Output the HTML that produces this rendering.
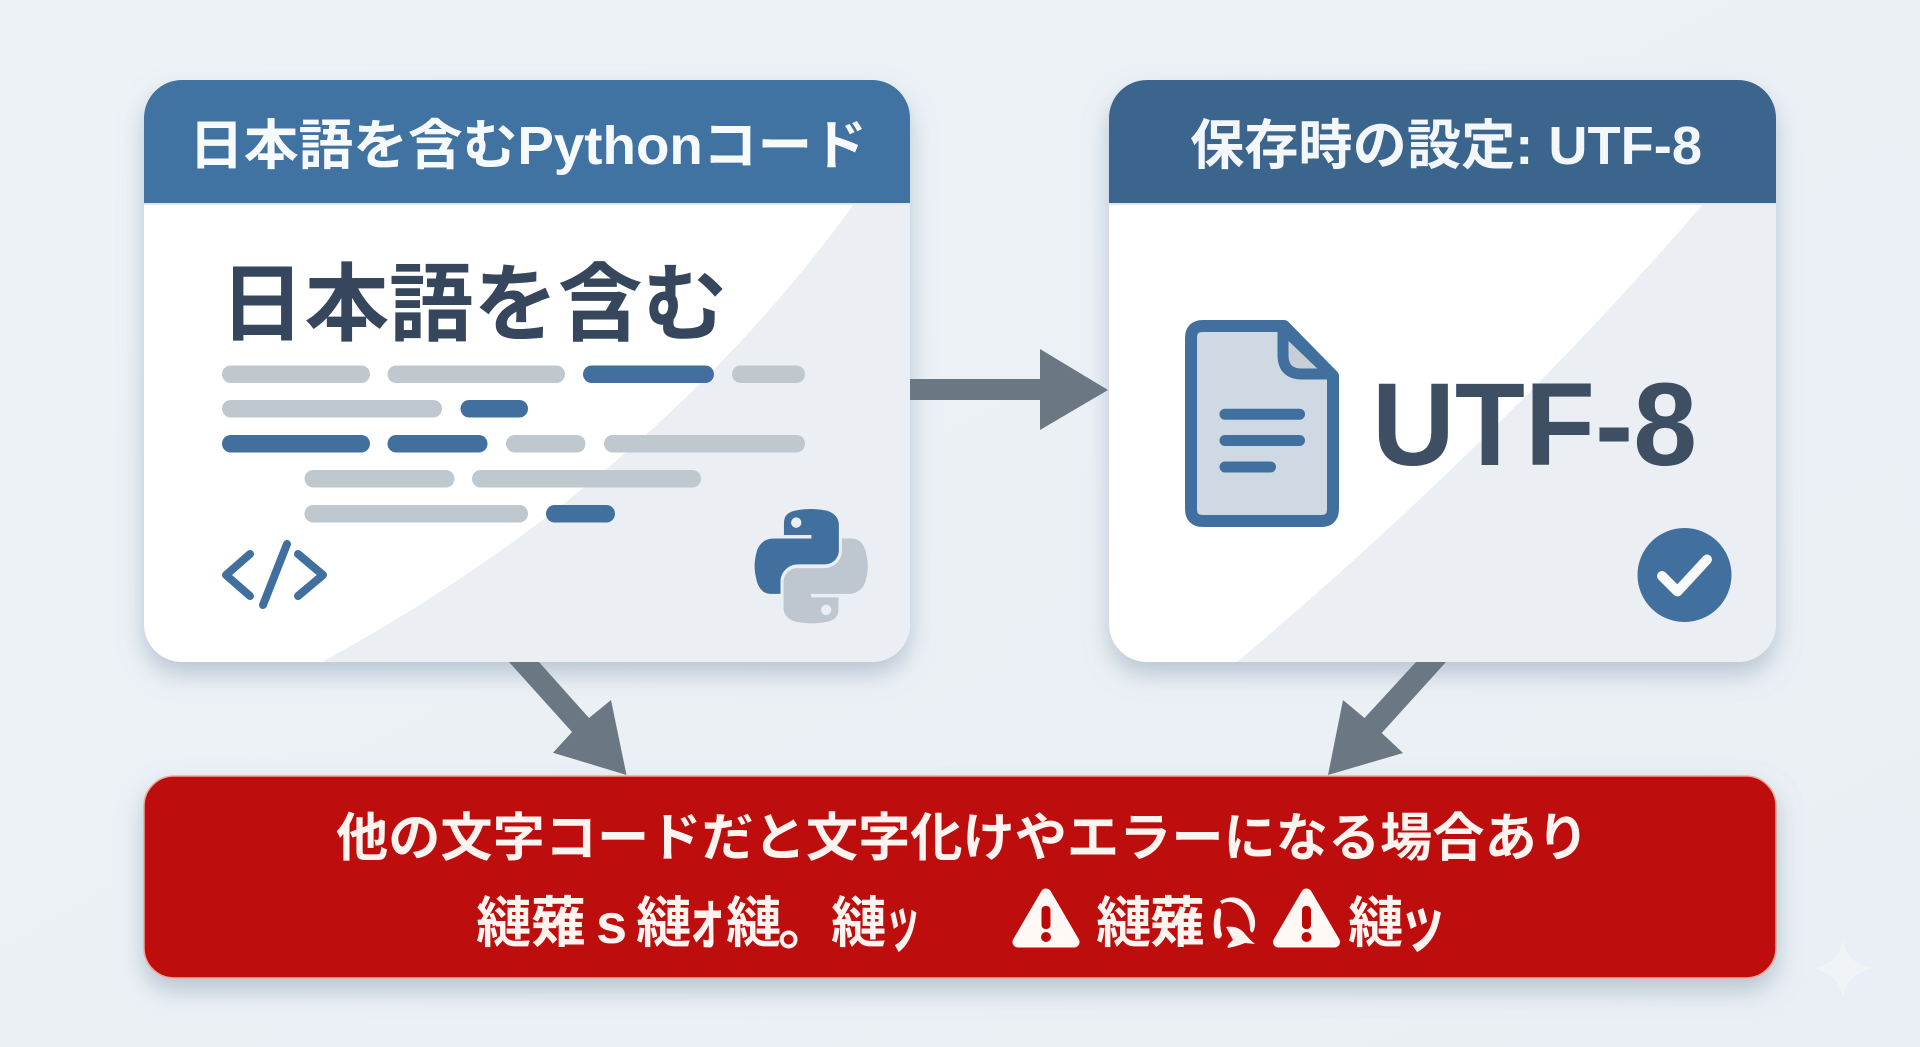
<!DOCTYPE html>
<html lang="ja">
<head>
<meta charset="utf-8">
<title>UTF-8 diagram</title>
<style>
html,body{margin:0;padding:0;width:1920px;height:1047px;overflow:hidden;background:#e9eff5}
svg{display:block;position:absolute;left:0;top:0}
text{font-family:"Liberation Sans","Noto Sans CJK JP",sans-serif;font-weight:700}
</style>
</head>
<body>
<svg width="1920" height="1047" viewBox="0 0 1920 1047" xmlns="http://www.w3.org/2000/svg">
<defs>
<linearGradient id="bg" x1="0" y1="0" x2="1" y2="1"><stop offset="0" stop-color="#edf2f6"/><stop offset="1" stop-color="#e9eff4"/></linearGradient>
<filter id="sh" x="-10%" y="-10%" width="120%" height="130%"><feDropShadow dx="0" dy="12" stdDeviation="12" flood-color="#8fa3b8" flood-opacity=".55"/></filter>
<clipPath id="c1"><rect x="144" y="80" width="766" height="582" rx="38"/></clipPath>
<clipPath id="c2"><rect x="1109" y="80" width="667" height="582" rx="38"/></clipPath>
</defs>
<rect width="1920" height="1047" fill="url(#bg)"/>

<!-- Card 1 -->
<rect x="144" y="80" width="766" height="582" rx="38" fill="#fff" filter="url(#sh)"/>
<g clip-path="url(#c1)">
<path d="M854 204 Q652 482 322 662 H910 V204 Z" fill="#ebeff4"/>
<path d="M144 203 V80 H910 V203 Z" fill="#4072a2"/>
<rect x="144" y="203" width="766" height="2" fill="#dfe8f0"/>
</g>
<text x="189" y="164" font-size="54" fill="#f7fafc" textLength="678" lengthAdjust="spacingAndGlyphs">日本語を含むPythonコード</text>
<text x="220" y="334" font-size="85" fill="#36475d" textLength="507" lengthAdjust="spacingAndGlyphs">日本語を含む</text>
<g fill="#bfc7cf">
<rect x="222" y="365.5" width="148" height="17.5" rx="8.7"/>
<rect x="387.500" y="365.5" width="177.500" height="17.5" rx="8.7"/>
<rect x="732" y="365.5" width="73" height="17.5" rx="8.7"/>
<rect x="222" y="400" width="220" height="17.5" rx="8.7"/>
<rect x="506" y="435" width="79.500" height="17.5" rx="8.7"/>
<rect x="604" y="435" width="201" height="17.5" rx="8.7"/>
<rect x="304.500" y="470" width="150" height="17.5" rx="8.7"/>
<rect x="472" y="470" width="229" height="17.5" rx="8.7"/>
<rect x="304.500" y="505" width="223.500" height="17.5" rx="8.7"/>
</g>
<g fill="#41709f">
<rect x="583" y="365.5" width="131" height="17.5" rx="8.7"/>
<rect x="460.500" y="400" width="67.500" height="17.5" rx="8.7"/>
<rect x="222" y="435" width="148" height="17.5" rx="8.7"/>
<rect x="387.500" y="435" width="100" height="17.5" rx="8.7"/>
<rect x="546" y="505" width="69" height="17.5" rx="8.7"/>
</g>
<g fill="none" stroke="#41709f" stroke-width="8" stroke-linecap="round" stroke-linejoin="round">
<path d="M250 554 L226 575 L250 596"/>
<path d="M287 544 L263 605"/>
<path d="M298 554 L323 575 L298 596"/>
</g>
<g transform="translate(754 509) scale(1.04)">
<path fill="#bec6cf" fill-rule="evenodd" transform="rotate(180 55 55)" d="M54.900 0C50.300 .02 45.900 .4 42.100 1.100C30.800 3.100 28.800 7.200 28.800 14.900V25H55.200V28.400H18.900C11.200 28.400 4.500 33 2.400 41.700C0 51.700 -.1 57.900 2.400 68.300C4.300 76.100 8.700 81.600 16.400 81.600H25.500V69.600C25.500 60.900 33 53.200 42.100 53.200H68.400C75.800 53.200 81.600 47.100 81.600 39.800V14.900C81.600 7.800 75.600 2.500 68.400 1.300C63.900 .5 59.300 0 54.900 0ZM40.600 8.100a5 5 0 1 1 0 10a5 5 0 1 1 0-10Z"/>
<path fill="#41709f" fill-rule="evenodd" d="M54.900 0C50.300 .02 45.900 .4 42.100 1.100C30.800 3.100 28.800 7.200 28.800 14.900V25H55.200V28.400H18.900C11.200 28.400 4.500 33 2.400 41.700C0 51.700 -.1 57.900 2.400 68.300C4.300 76.100 8.700 81.600 16.400 81.600H25.500V69.600C25.500 60.900 33 53.200 42.100 53.200H68.400C75.800 53.200 81.600 47.100 81.600 39.800V14.900C81.600 7.800 75.600 2.500 68.400 1.300C63.900 .5 59.300 0 54.900 0ZM40.600 8.100a5 5 0 1 1 0 10a5 5 0 1 1 0-10Z"/>
</g>

<!-- Card 2 -->
<rect x="1109" y="80" width="667" height="582" rx="38" fill="#fff" filter="url(#sh)"/>
<g clip-path="url(#c2)">
<path d="M1703 204 Q1500 440 1237 662 H1776 V204 Z" fill="#ebeff4"/>
<path d="M1109 203 V80 H1776 V203 Z" fill="#3b658c"/>
<rect x="1109" y="203" width="667" height="2" fill="#dfe8f0"/>
</g>
<text x="1190" y="164" font-size="54" fill="#f4f7fa" textLength="512" lengthAdjust="spacingAndGlyphs">保存時の設定: UTF-8</text>
<path d="M1203 326 H1284 L1333 376 V509 Q1333 521 1321 521 H1203 Q1191 521 1191 509 V338 Q1191 326 1203 326 Z" fill="#cfd9e4" stroke="#41709f" stroke-width="12" stroke-linejoin="round"/>
<path d="M1283 328 V355 Q1283 374 1302 374 H1331 Z" fill="#c7ced6" stroke="#41709f" stroke-width="11" stroke-linejoin="round"/>
<g fill="#41709f">
<rect x="1219.500" y="408.700" width="85.500" height="11" rx="5.500"/>
<rect x="1219.500" y="435" width="85.500" height="11" rx="5.500"/>
<rect x="1219.500" y="461.500" width="56.500" height="11" rx="5.500"/>
</g>
<text x="1372" y="465" font-size="118" fill="#3e4f63" textLength="325" lengthAdjust="spacingAndGlyphs">UTF-8</text>
<circle cx="1684.500" cy="575" r="47" fill="#41709f"/>
<path d="M1662 576 L1677.500 591.500 L1707 559.500" fill="none" stroke="#f8fafb" stroke-width="10" stroke-linecap="round" stroke-linejoin="round"/>

<!-- Banner -->
<rect x="144" y="776" width="1632" height="202" rx="30" fill="#bd0808" stroke="#f3a697" stroke-width="1.500" filter="url(#sh)"/>
<text x="336" y="856" font-size="52" fill="#fdf3ef" textLength="1253" lengthAdjust="spacingAndGlyphs">他の文字コードだと文字化けやエラーになる場合あり</text>
<g font-size="55" fill="#fdf3ef">
<text x="476 531" y="942">縺薙</text>
<text x="596" y="943" font-size="56">s</text>
<text x="636" y="942">縺</text>
<text x="687" y="942" font-size="66" textLength="39" lengthAdjust="spacingAndGlyphs">ォ</text>
<text x="726" y="942">縺</text>
<text x="778" y="944">。</text>
<text x="831" y="942">縺</text>
<text x="885" y="946" font-size="64" textLength="36" lengthAdjust="spacingAndGlyphs">ッ</text>
<text x="1096 1150" y="942">縺薙</text>
<text x="1348" y="942">縺</text>
<text x="1399" y="946" font-size="64" textLength="48" lengthAdjust="spacingAndGlyphs">ッ</text>
</g>
<g fill="#fdf3ef">
<path d="M1220 901 Q1236 892 1248 905 Q1258 918 1254 930 Q1252 935 1250 930 Q1250 915 1240 906 Q1230 899 1222 904 Z"/>
<path d="M1216 910 Q1222 905 1221 915 Q1219 925 1222 935 Q1220 941 1215 937 Q1212 922 1216 910 Z"/>
<path d="M1226 927 Q1238 925 1245 934 Q1250 940 1255 944 L1245 943 Q1238 946 1228 948 Q1226 946 1233 940 Q1230 934 1226 927 Z"/>
</g>
<g>
<path d="M1046 894 L1074 942 H1018 Z" fill="#fff8f5" stroke="#fff8f5" stroke-width="11" stroke-linejoin="round"/>
<rect x="1041.500" y="906" width="9" height="23" rx="4" fill="#bd0808"/>
<circle cx="1046" cy="937" r="5" fill="#bd0808"/>
</g>
<g>
<path d="M1306.500 894 L1334.500 942 H1278.500 Z" fill="#fff8f5" stroke="#fff8f5" stroke-width="11" stroke-linejoin="round"/>
<rect x="1302" y="906" width="9" height="23" rx="4" fill="#bd0808"/>
<circle cx="1306.500" cy="937" r="5" fill="#bd0808"/>
</g>

<!-- Arrows -->
<g fill="#6b7883">
<path d="M910 379 H1040 V349 L1108 390 L1040 430 V400 H910 Z"/>
<path d="M509 662 H539 L589 718 L611 700 L626.500 775 L553 752.700 L572 732 Z"/>
<path d="M1416 662 H1446 L1381.700 733 L1403 753 L1328 775 L1343 700 L1364.500 718 Z"/>
</g>

<!-- Sparkle -->
<path d="M1843 940 C1847 958 1855 965 1874 968 C1855 972 1847 980 1843 997 C1839 980 1831 972 1812 968 C1831 965 1839 958 1843 940 Z" fill="#fff" opacity=".32"/>
</svg>
</body>
</html>
